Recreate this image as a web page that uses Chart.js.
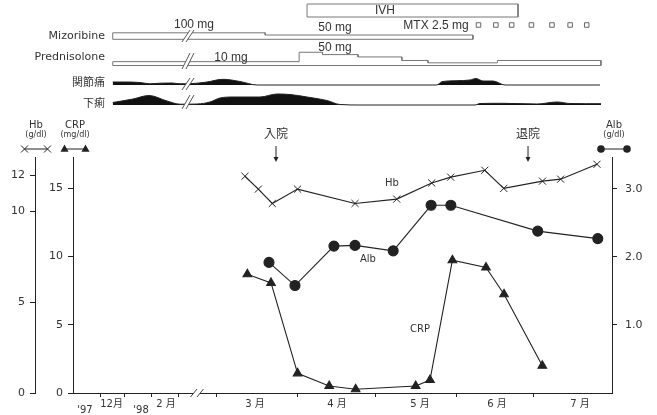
<!DOCTYPE html>
<html>
<head>
<meta charset="utf-8">
<script src="https://cdn.jsdelivr.net/npm/chart.js@4.4.1/dist/chart.umd.min.js"></script>
<style>
  body { margin: 0; background: #fff; }
  canvas { display: block; }
</style>
</head>
<body>
<canvas id="top" width="657" height="115"></canvas>
<canvas id="lab" width="657" height="300"></canvas>
<script>
// time axis in months of 1998 (3 = 1 March); the stretch before the break is squeezed
var ivhSpan = [4.14, 6.81];
var mtxDays = [6.31, 6.53, 6.73, 6.98, 7.24, 7.47, 7.68];
var mizEdges = [1.68, 3.61, 6.24];
var mizDose = [100, 50];
var predEdges = [1.68, 4.04, 4.335, 4.785, 5.34, 5.67, 6.55, 7.86];
var predDose = [10, 50, 40, 30, 15, 5, 15];

var jointX = [1.68, 1.835, 2.025, 2.152, 2.278, 2.43, 2.532, 2.696, 2.873, 3.076, 3.291, 3.506, 5.781, 5.848, 6.038, 6.203, 6.278, 6.367, 6.494, 6.646, 7.848];
var jointLevel = [3, 3, 2.5, 1.2, 1.8, 2, 1.2, 1.5, 3, 5.7, 3.5, 0, 0, 3.3, 4.3, 5, 6.5, 4, 4, 0, 0];
var diarX = [1.68, 1.937, 2.139, 2.367, 2.532, 2.747, 2.911, 3.038, 3.203, 3.544, 3.759, 3.924, 4.139, 4.392, 4.557, 4.81, 6.266, 6.329, 6.62, 7.051, 7.304, 7.468, 7.861];
var diarLevel = [2.5, 6, 9.5, 4, 0.8, 1, 3, 7, 8, 8, 11, 10.5, 8, 4.5, 0.5, 0, 0, 1.5, 1.7, 1, 3, 1.5, 1.3];

var hbX = [3.354, 3.523, 3.70, 4.02, 4.747, 5.275, 5.718, 5.958, 6.39, 6.63, 7.12, 7.35, 7.81];
var hbVal = [11.94, 11.23, 10.44, 11.23, 10.44, 10.68, 11.57, 11.89, 12.27, 11.27, 11.67, 11.78, 12.6];
var albX = [3.658, 3.987, 4.48, 4.747, 5.23, 5.71, 5.96, 7.06, 7.82];
var albVal = [1.92, 1.58, 2.16, 2.17, 2.09, 2.76, 2.76, 2.38, 2.27];
var crpX = [3.384, 3.684, 4.02, 4.42, 4.755, 5.515, 5.696, 5.98, 6.405, 6.633, 7.118];
var crpVal = [8.7, 8.07, 1.44, 0.51, 0.27, 0.51, 0.95, 9.73, 9.2, 7.24, 2.0];

var rowLabels = ['Mizoribine', 'Prednisolone', '関節痛', '下痢'];
var monthTicks = [1.519, 1.829, 2.165, 2.513, 2.996, 4.025, 5.0, 6.03, 7.006];
var monthLabelX = [1.329, 1.665, 2.038, 2.354, 3.481, 4.519, 5.57, 6.544, 7.595];
var monthLabels = [['', "'97"], '12月', ['', "'98"], '2 月', '3 月', '4 月', '5 月', '6 月', '7 月'];
var hbTicks = [0, 5, 10, 12];
var crpTicks = [0, 5, 10, 15];
var albTicks = [1, 2, 3];

var FONT = "'DejaVu Sans', 'Noto Sans CJK JP', sans-serif";
var ARIAL = "'Liberation Sans', 'Noto Sans CJK JP', sans-serif";
var INK = '#222';
var TXT = '#333';

// ---------- top strip: treatment and symptoms ----------
// y unit = 1px measured up from the bottom of the strip
var rowBase = { ivh: 98, miz: 75.7, pred: 49.5, joint: 30, diar: 10 };
var rowLabelY = [79, 57.7, 32, 10.5];
var breakTop = 2.633;
var breakBottom = 2.747;

function mizH(mg) { return 2.1 + mg * 0.044; }
function predH(mg) { return 1.5 + mg * 0.235; }

function stepBox(edges, levels, base) {
  var pts = [{ x: edges[0], y: base }];
  levels.forEach(function (h, i) {
    pts.push({ x: edges[i], y: base + h }, { x: edges[i + 1], y: base + h });
  });
  pts.push({ x: edges[edges.length - 1], y: base }, { x: edges[0], y: base });
  return pts;
}
function profile(xs, lv, base) {
  return xs.map(function (x, i) { return { x: x, y: base + lv[i] }; });
}
function fixTicks(vals) {
  return function (s) { s.ticks = vals.map(function (v) { return { value: v }; }); };
}

var boxStyle = { borderColor: '#777', borderWidth: 1, pointRadius: 0, fill: false, tension: 0 };

var topNotes = {
  id: 'topNotes',
  afterDatasetsDraw: function (chart) {
    var ctx = chart.ctx, sx = chart.scales.x, sy = chart.scales.y;
    ctx.save();
    var bx = sx.getPixelForValue(breakTop);
    [[79, 6], [54, 8], [31, 6], [13, 7]].forEach(function (r) {
      var y = sy.getPixelForValue(r[0]), h = r[1];
      ctx.fillStyle = '#fff';
      ctx.beginPath();
      ctx.moveTo(bx - 6, y + h); ctx.lineTo(bx + 2, y - h);
      ctx.lineTo(bx + 6, y - h); ctx.lineTo(bx - 2, y + h);
      ctx.closePath(); ctx.fill();
      ctx.strokeStyle = '#555'; ctx.lineWidth = 1;
      ctx.beginPath();
      ctx.moveTo(bx - 6, y + h); ctx.lineTo(bx + 2, y - h);
      ctx.moveTo(bx - 2, y + h); ctx.lineTo(bx + 6, y - h);
      ctx.stroke();
    });
    ctx.fillStyle = TXT;
    ctx.font = '12px ' + ARIAL;
    ctx.textAlign = 'center';
    ctx.textBaseline = 'middle';
    [['IVH', 5.127, 104], ['100 mg', 2.709, 90], ['50 mg', 4.494, 87],
     ['50 mg', 4.494, 67.5], ['10 mg', 3.177, 57.5], ['MTX 2.5 mg', 5.772, 89.7]].forEach(function (t) {
      ctx.fillText(t[0], sx.getPixelForValue(t[1]), sy.getPixelForValue(t[2]));
    });
    ctx.restore();
  }
};

new Chart(document.getElementById('top'), {
  type: 'line',
  data: {
    datasets: [
      Object.assign({ data: stepBox(ivhSpan, [13], rowBase.ivh) }, boxStyle),
      Object.assign({ data: stepBox(mizEdges, mizDose.map(mizH), rowBase.miz) }, boxStyle),
      Object.assign({ data: stepBox(predEdges, predDose.map(predH), rowBase.pred) }, boxStyle),
      {
        data: mtxDays.map(function (x) { return { x: x, y: 90 }; }),
        showLine: false, pointStyle: 'rect', pointRadius: 3.2,
        pointBorderColor: '#666', pointBackgroundColor: '#fff', pointBorderWidth: 1
      },
      {
        data: profile(jointX, jointLevel, rowBase.joint),
        borderColor: INK, backgroundColor: '#111', borderWidth: 1, pointRadius: 0,
        fill: { value: rowBase.joint }, tension: 0.4, cubicInterpolationMode: 'monotone'
      },
      {
        data: profile(diarX, diarLevel, rowBase.diar),
        borderColor: INK, backgroundColor: '#111', borderWidth: 1, pointRadius: 0,
        fill: { value: rowBase.diar }, tension: 0.4, cubicInterpolationMode: 'monotone'
      }
    ]
  },
  options: {
    responsive: false,
    animation: false,
    devicePixelRatio: 1,
    layout: { autoPadding: false, padding: { left: 0, right: 45, top: 0, bottom: 0 } },
    plugins: { legend: { display: false }, tooltip: { enabled: false } },
    scales: {
      x: { type: 'linear', display: false, min: 3 + (110 - 217) / 79, max: 8 },
      y: {
        type: 'linear', min: 0, max: 115,
        grid: { display: false, drawTicks: false },
        border: { display: false },
        afterFit: function (s) { s.width = 110; s.paddingTop = 0; s.paddingBottom = 0; },
        afterBuildTicks: fixTicks(rowLabelY),
        ticks: {
          padding: 5, color: TXT, font: { family: FONT, size: 11 },
          callback: function (v, i) { return rowLabels[i]; }
        }
      }
    }
  },
  plugins: [topNotes]
});

// ---------- lab values ----------
function pts(xs, ys) { return xs.map(function (x, i) { return { x: x, y: ys[i] }; }); }

function mark(ctx, type, x, y, r) {
  ctx.beginPath();
  if (type === 'cross') {
    ctx.moveTo(x - r, y - r); ctx.lineTo(x + r, y + r);
    ctx.moveTo(x + r, y - r); ctx.lineTo(x - r, y + r);
    ctx.stroke();
  } else if (type === 'tri') {
    ctx.moveTo(x, y - r); ctx.lineTo(x + r * 0.9, y + r * 0.6); ctx.lineTo(x - r * 0.9, y + r * 0.6);
    ctx.closePath(); ctx.fill();
  } else {
    ctx.arc(x, y, r, 0, Math.PI * 2); ctx.fill();
  }
}

var labNotes = {
  id: 'labNotes',
  afterDraw: function (chart) {
    var ctx = chart.ctx, a = chart.chartArea, s = chart.scales;
    ctx.save();
    ctx.fillStyle = INK; ctx.strokeStyle = INK; ctx.lineWidth = 1;
    ctx.textAlign = 'center'; ctx.textBaseline = 'middle';

    // axis headers with their legend keys
    [[s.hb.right + 1, 'Hb', '(g/dl)', 'cross', 11.5, 3.5],
     [s.crp.right + 2, 'CRP', '(mg/dl)', 'tri', 10.5, 4.5],
     [s.alb.left + 2, 'Alb', '(g/dl)', 'dot', 13, 3.8]].forEach(function (h) {
      var x = h[0];
      ctx.fillStyle = TXT;
      ctx.font = '10px ' + FONT;
      ctx.fillText(h[1], x, a.top - 32);
      ctx.font = '8px ' + FONT;
      ctx.fillText(h[2], x, a.top - 22);
      ctx.fillStyle = INK;
      var y = a.top - 8;
      ctx.beginPath(); ctx.moveTo(x - h[4], y); ctx.lineTo(x + h[4], y); ctx.stroke();
      mark(ctx, h[3], x - h[4], y, h[5]);
      mark(ctx, h[3], x + h[4], y, h[5]);
    });

    // admission / discharge arrows
    [['入院', 3.747], ['退院', 6.937]].forEach(function (t) {
      var x = s.x.getPixelForValue(t[1]);
      ctx.fillStyle = TXT;
      ctx.font = '12px ' + FONT;
      ctx.fillText(t[0], x, a.top - 22);
      ctx.beginPath(); ctx.moveTo(x, a.top - 11); ctx.lineTo(x, a.top + 1); ctx.stroke();
      ctx.fillStyle = INK;
      ctx.beginPath(); ctx.moveTo(x - 2.5, a.top); ctx.lineTo(x + 2.5, a.top); ctx.lineTo(x, a.top + 5);
      ctx.closePath(); ctx.fill();
    });

    // series names inside the plot
    ctx.fillStyle = TXT;
    ctx.font = '10px ' + FONT;
    ctx.fillText('Hb', s.x.getPixelForValue(5.215), s.hb.getPixelForValue(11.57));
    ctx.fillText('Alb', s.x.getPixelForValue(4.911), s.alb.getPixelForValue(1.97));
    ctx.fillText('CRP', s.x.getPixelForValue(5.57), s.crp.getPixelForValue(4.69));

    // break on the time axis
    var bx = s.x.getPixelForValue(breakBottom), by = a.bottom;
    ctx.fillStyle = '#fff';
    ctx.beginPath();
    ctx.moveTo(bx - 6.5, by + 4); ctx.lineTo(bx, by - 4); ctx.lineTo(bx + 6.5, by - 4); ctx.lineTo(bx, by + 4);
    ctx.closePath(); ctx.fill();
    ctx.strokeStyle = '#444';
    ctx.beginPath();
    ctx.moveTo(bx - 6.5, by + 4); ctx.lineTo(bx, by - 4);
    ctx.moveTo(bx, by + 4); ctx.lineTo(bx + 6.5, by - 4);
    ctx.stroke();
    ctx.restore();
  }
};

var tickFont = { family: FONT, size: 11 };
var sideGrid = { drawOnChartArea: false, drawTicks: true, tickLength: 5, color: INK };
var lineStyle = { borderColor: INK, borderWidth: 1.1, pointBorderColor: INK, pointBackgroundColor: INK, tension: 0 };

new Chart(document.getElementById('lab'), {
  type: 'line',
  data: {
    datasets: [
      Object.assign({ label: 'Hb', data: pts(hbX, hbVal), yAxisID: 'hb',
        pointStyle: 'crossRot', pointRadius: 5, pointBorderWidth: 1 }, lineStyle),
      Object.assign({ label: 'Alb', data: pts(albX, albVal), yAxisID: 'alb',
        pointStyle: 'circle', pointRadius: 5 }, lineStyle),
      Object.assign({ label: 'CRP', data: pts(crpX, crpVal), yAxisID: 'crp',
        pointStyle: 'triangle', pointRadius: 5 }, lineStyle)
    ]
  },
  options: {
    responsive: false,
    animation: false,
    devicePixelRatio: 1,
    layout: { padding: { left: 0, right: 0, top: 42, bottom: 0 } },
    plugins: { legend: { display: false }, tooltip: { enabled: false } },
    scales: {
      x: {
        type: 'linear', position: 'bottom', weight: 0, min: 3 + (73 - 217) / 79, max: 8,
        grid: { drawOnChartArea: false, drawTicks: true, tickLength: 4, color: INK },
        border: { display: true, color: INK, width: 1 },
        ticks: { display: false },
        afterBuildTicks: fixTicks(monthTicks),
        afterFit: function (s) { s.height = 4; }
      },
      xl: {
        type: 'linear', position: 'bottom', weight: 1, min: 3 + (73 - 217) / 79, max: 8,
        grid: { display: false, drawTicks: false },
        border: { display: false },
        afterBuildTicks: fixTicks(monthLabelX),
        afterFit: function (s) { s.height = 18; },
        ticks: {
          autoSkip: false, maxRotation: 0, minRotation: 0, padding: 4, color: TXT,
          font: { family: FONT, size: 10, lineHeight: 0.6 },
          callback: function (v, i) { return monthLabels[i]; }
        }
      },
      hb: {
        type: 'linear', position: 'left', weight: 1, min: 0, max: 13,
        grid: sideGrid, border: { display: true, color: INK, width: 1 },
        afterBuildTicks: fixTicks(hbTicks),
        afterFit: function (s) { s.width = 35; },
        ticks: { padding: 5, color: TXT, font: tickFont }
      },
      crp: {
        type: 'linear', position: 'left', weight: 0, min: 0, max: 17.3,
        grid: sideGrid, border: { display: true, color: INK, width: 1 },
        afterBuildTicks: fixTicks(crpTicks),
        afterFit: function (s) { s.width = 38; },
        ticks: { padding: 5, color: TXT, font: tickFont }
      },
      alb: {
        type: 'linear', position: 'right', min: 0, max: 3.47,
        grid: sideGrid, border: { display: true, color: INK, width: 1 },
        afterBuildTicks: fixTicks(albTicks),
        afterFit: function (s) { s.width = 45; },
        ticks: { padding: 8, color: TXT, font: tickFont,
          callback: function (v) { return v.toFixed(1); } }
      }
    }
  },
  plugins: [labNotes]
});
</script>
</body>
</html>
